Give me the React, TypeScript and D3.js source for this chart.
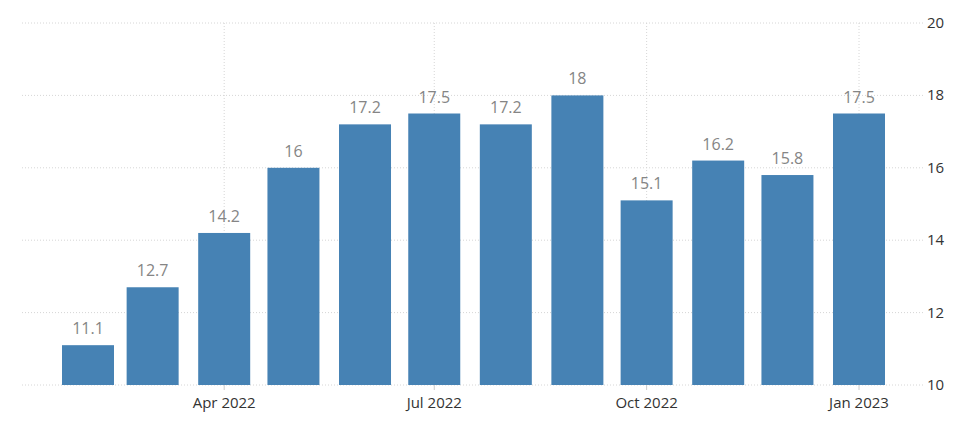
import React, { useEffect, useRef } from "react";
import * as d3 from "d3";

// monthly values, Feb 2022 .. Jan 2023
const months = [
  "2022-02-01", "2022-03-01", "2022-04-01", "2022-05-01", "2022-06-01", "2022-07-01",
  "2022-08-01", "2022-09-01", "2022-10-01", "2022-11-01", "2022-12-01", "2023-01-01",
];
const values = [11.1, 12.7, 14.2, 16, 17.2, 17.5, 17.2, 18, 15.1, 16.2, 15.8, 17.5];
const xTicks = ["2022-04-01", "2022-07-01", "2022-10-01", "2023-01-01"];
const yTicks = [10, 12, 14, 16, 18, 20];

const parse = d3.utcParse("%Y-%m-%d");

const App = () => {
  const ref = useRef<SVGGElement>(null);

  const width = 973,
    height = 422;
  const gridLeft = 22,
    gridRight = 923;
  const barWidth = 52;
  const font = "'Open Sans', 'Noto Sans', sans-serif";

  const x = d3
    .scaleUtc()
    .domain([parse(months[0])!, parse(months[months.length - 1])!])
    .range([88, 859]);

  const y = d3.scaleLinear().domain([10, 20]).range([385, 23]);

  useEffect(() => {
    const g = d3.select(ref.current);
    g.selectAll("*").remove();

    // horizontal grid
    g.selectAll("line.hgrid")
      .data(yTicks)
      .enter()
      .append("line")
      .attr("x1", gridLeft)
      .attr("x2", gridRight)
      .attr("y1", (d) => y(d))
      .attr("y2", (d) => y(d))
      .attr("stroke", "#d6d6d6")
      .attr("stroke-width", 1)
      .attr("stroke-dasharray", "1,2");

    // vertical grid
    g.selectAll("line.vgrid")
      .data(xTicks)
      .enter()
      .append("line")
      .attr("x1", (d) => x(parse(d)!))
      .attr("x2", (d) => x(parse(d)!))
      .attr("y1", y(20))
      .attr("y2", y(10))
      .attr("stroke", "#d6d6d6")
      .attr("stroke-width", 1)
      .attr("stroke-dasharray", "1,2");

    // bars
    g.selectAll("rect")
      .data(values)
      .enter()
      .append("rect")
      .attr("x", (d, i) => x(parse(months[i])!) - barWidth / 2)
      .attr("y", (d) => y(d))
      .attr("width", barWidth)
      .attr("height", (d) => y(10) - y(d))
      .attr("fill", "#4682b4");

    // value labels
    g.selectAll("text.val")
      .data(values)
      .enter()
      .append("text")
      .attr("x", (d, i) => x(parse(months[i])!))
      .attr("y", (d) => y(d) - 11)
      .attr("text-anchor", "middle")
      .attr("font-family", font)
      .attr("font-size", 16)
      .attr("fill", "#858585")
      .text((d) => String(d));

    // x tick marks + labels
    g.selectAll("line.xtick")
      .data(xTicks)
      .enter()
      .append("line")
      .attr("x1", (d) => x(parse(d)!))
      .attr("x2", (d) => x(parse(d)!))
      .attr("y1", y(10))
      .attr("y2", y(10) + 5)
      .attr("stroke", "#ccc");

    g.selectAll("text.xlab")
      .data(xTicks)
      .enter()
      .append("text")
      .attr("x", (d) => x(parse(d)!))
      .attr("y", 408)
      .attr("text-anchor", "middle")
      .attr("font-family", font)
      .attr("font-size", 15)
      .attr("fill", "#333")
      .text((d) => d3.utcFormat("%b %Y")(parse(d)!));

    // y labels on the right
    g.selectAll("text.ylab")
      .data(yTicks)
      .enter()
      .append("text")
      .attr("x", 927)
      .attr("y", (d) => y(d) + 5)
      .attr("font-family", font)
      .attr("font-size", 15)
      .attr("fill", "#333")
      .text((d) => String(d));
  }, []);

  return (
    <svg
      width={width}
      height={height}
      style={{ position: "absolute", left: 0, top: 0, background: "#fff" }}
    >
      <g ref={ref} />
    </svg>
  );
};

export default App;
